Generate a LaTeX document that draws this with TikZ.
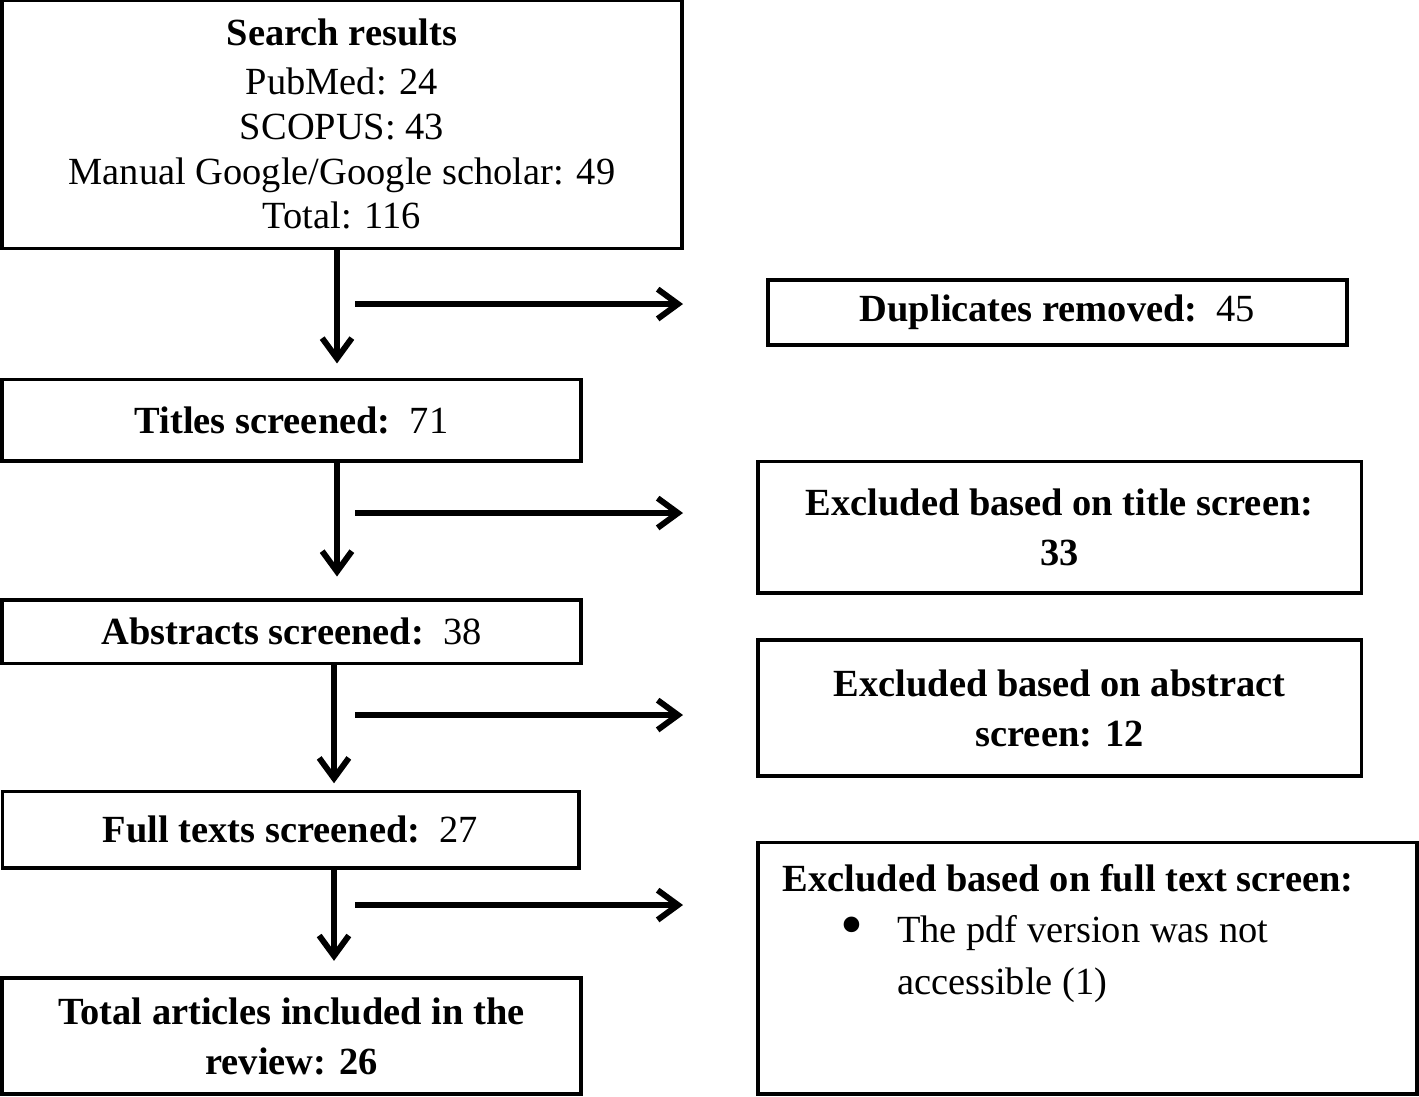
\documentclass[tikz,border=0pt]{standalone}
\usepackage{fontspec}
\setmainfont{Liberation Serif}
\usetikzlibrary{arrows.meta}
\tikzset{
  box/.style   = {rectangle, draw=black, line width=1pt, align=center, inner sep=0pt,
                  font=\fontsize{12.3pt}{14.3pt}\selectfont},
  boxtwo/.style= {box, font=\fontsize{12.3pt}{16pt}\selectfont\bfseries},
  flow/.style  = {-{Straight Barb[length=6.5pt, width=9.5pt]}, line width=1.9pt},
}

\begin{document}
\begin{tikzpicture}[x=0.32pt, y=-0.32pt]
    \useasboundingbox (0,0) rectangle (1419,1096);
    % left column
    \node[box, minimum width=217.6pt, minimum height=79.4pt] (srch)  at (342,124)
        {\textbf{Search results}\\[1.5pt] PubMed: 24\\ SCOPUS: 43\\ Manual Google/Google scholar: 49\\ Total: 116};
    \node[box, minimum width=185.3pt, minimum height=26.2pt] (title) at (291.5,420) {\textbf{Titles screened:}~~71};
    \node[box, minimum width=185.3pt, minimum height=20.2pt] (abstr) at (291.5,631.5) {\textbf{Abstracts screened:}~~38};
    \node[box, minimum width=184.6pt, minimum height=24.6pt] (full)  at (290.5,829.5) {\textbf{Full texts screened:}~~27};
    \node[boxtwo, minimum width=185.3pt, minimum height=37.1pt] (total) at (291.5,1036) {Total articles included in the\\ review: 26};
    % right column
    \node[box, minimum width=185.3pt, minimum height=20.8pt] (dup) at (1057.5,312.5) {\textbf{Duplicates removed:}~~45};
    \node[boxtwo, minimum width=193pt, minimum height=42.2pt] (extitle) at (1059.5,527) {Excluded based on title screen:\\ 33};
    \node[boxtwo, minimum width=193pt, minimum height=43.5pt] (exabs) at (1059.5,708) {Excluded based on abstract\\ screen: 12};
    \node[box, minimum width=210.9pt, minimum height=80.6pt] (exfull) at (1087.5,968)
        {\begin{minipage}[c][66.6pt][t]{194.9pt}\fontsize{12.3pt}{16.6pt}\selectfont
            \textbf{Excluded based on full text screen:}\\
            \hspace*{18.3pt}\makebox[18.2pt][l]{\raisebox{-1.2pt}{\scalebox{1.7}{\textbullet}}}The pdf version was not\\
            \hspace*{36.5pt}accessible (1)
         \end{minipage}};
    % arrows
    \coordinate (colA) at (337,0);
    \coordinate (colB) at (334,0);
    \foreach \a/\b/\c/\g in {srch/title/colA/4.5pt, title/abstr/colA/7pt, abstr/full/colB/2pt, full/total/colB/5pt}{
        \draw[flow, shorten >=\g] (\a.south -| \c) -- (\b.north -| \c);}
    \foreach \y/\n in {304/1, 513/2, 715/3, 905/4}{
        \coordinate (hs\n) at (355,\y);
        \coordinate (he\n) at (683,\y);
        \draw[flow] (hs\n) -- (he\n);}
\end{tikzpicture}
\end{document}
